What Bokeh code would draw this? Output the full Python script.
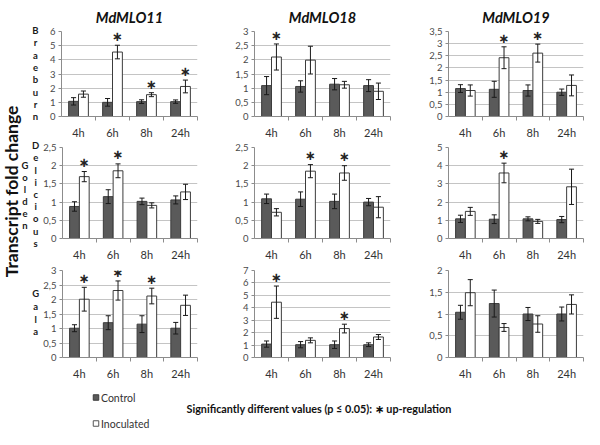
import numpy as np
from bokeh.plotting import figure
from bokeh.models import Range1d, FixedTicker, CustomJSTickFormatter
from bokeh.layouts import row, column
from bokeh.embed import file_html
from bokeh.resources import INLINE
from bokeh.core.properties import value

times = ["4h", "6h", "8h", "24h"]
genes = ["MdMLO11", "MdMLO18", "MdMLO19"]

# ---- Braeburn ----
brae_mlo11_ctrl = [1.07, 1.00, 1.05, 1.05]
brae_mlo11_ctrl_err = [0.26, 0.27, 0.13, 0.12]
brae_mlo11_inoc = [1.58, 4.55, 1.54, 2.12]
brae_mlo11_inoc_err = [0.22, 0.48, 0.14, 0.45]
brae_mlo11_sig = [0, 1, 1, 1]

brae_mlo18_ctrl = [1.09, 1.06, 1.14, 1.09]
brae_mlo18_ctrl_err = [0.32, 0.20, 0.20, 0.21]
brae_mlo18_inoc = [2.10, 1.99, 1.12, 0.89]
brae_mlo18_inoc_err = [0.46, 0.49, 0.12, 0.29]
brae_mlo18_sig = [1, 0, 0, 0]

brae_mlo19_ctrl = [1.15, 1.12, 1.07, 1.00]
brae_mlo19_ctrl_err = [0.16, 0.33, 0.23, 0.13]
brae_mlo19_inoc = [1.07, 2.42, 2.61, 1.28]
brae_mlo19_inoc_err = [0.23, 0.45, 0.37, 0.43]
brae_mlo19_sig = [0, 1, 1, 0]

# ---- Golden Delicious ----
gold_mlo11_ctrl = [0.88, 1.15, 1.02, 1.06]
gold_mlo11_ctrl_err = [0.13, 0.19, 0.09, 0.11]
gold_mlo11_inoc = [1.70, 1.86, 0.91, 1.28]
gold_mlo11_inoc_err = [0.14, 0.19, 0.07, 0.21]
gold_mlo11_sig = [1, 1, 0, 0]

gold_mlo18_ctrl = [1.09, 1.08, 1.02, 1.00]
gold_mlo18_ctrl_err = [0.13, 0.20, 0.20, 0.10]
gold_mlo18_inoc = [0.72, 1.85, 1.80, 0.86]
gold_mlo18_inoc_err = [0.10, 0.18, 0.20, 0.29]
gold_mlo18_sig = [0, 1, 1, 0]

gold_mlo19_ctrl = [1.08, 1.06, 1.08, 1.04]
gold_mlo19_ctrl_err = [0.20, 0.24, 0.11, 0.17]
gold_mlo19_inoc = [1.49, 3.60, 0.94, 2.84]
gold_mlo19_inoc_err = [0.22, 0.54, 0.11, 0.97]
gold_mlo19_sig = [0, 1, 0, 0]

# ---- Gala ----
gala_mlo11_ctrl = [1.01, 1.20, 1.15, 1.01]
gala_mlo11_ctrl_err = [0.12, 0.24, 0.29, 0.20]
gala_mlo11_inoc = [2.01, 2.31, 2.12, 1.80]
gala_mlo11_inoc_err = [0.41, 0.33, 0.27, 0.35]
gala_mlo11_sig = [1, 1, 1, 0]

gala_mlo18_ctrl = [1.08, 1.03, 1.03, 1.03]
gala_mlo18_ctrl_err = [0.25, 0.25, 0.30, 0.15]
gala_mlo18_inoc = [4.45, 1.38, 2.33, 1.65]
gala_mlo18_inoc_err = [1.30, 0.20, 0.35, 0.20]
gala_mlo18_sig = [1, 0, 1, 0]

gala_mlo19_ctrl = [1.04, 1.24, 1.00, 1.00]
gala_mlo19_ctrl_err = [0.16, 0.31, 0.15, 0.16]
gala_mlo19_inoc = [1.49, 0.69, 0.77, 1.22]
gala_mlo19_inoc_err = [0.30, 0.09, 0.19, 0.22]
gala_mlo19_sig = [0, 0, 0, 0]

# axis maxima and steps per row (MLO11, MLO18, MLO19)
y_max = [[6, 3, 3.5], [2.5, 2.5, 5], [3, 7, 2]]
y_step = [[1, 0.5, 0.5], [0.5, 0.5, 1], [0.5, 1, 0.5]]

panels = [
    [(brae_mlo11_ctrl, brae_mlo11_ctrl_err, brae_mlo11_inoc, brae_mlo11_inoc_err, brae_mlo11_sig),
     (brae_mlo18_ctrl, brae_mlo18_ctrl_err, brae_mlo18_inoc, brae_mlo18_inoc_err, brae_mlo18_sig),
     (brae_mlo19_ctrl, brae_mlo19_ctrl_err, brae_mlo19_inoc, brae_mlo19_inoc_err, brae_mlo19_sig)],
    [(gold_mlo11_ctrl, gold_mlo11_ctrl_err, gold_mlo11_inoc, gold_mlo11_inoc_err, gold_mlo11_sig),
     (gold_mlo18_ctrl, gold_mlo18_ctrl_err, gold_mlo18_inoc, gold_mlo18_inoc_err, gold_mlo18_sig),
     (gold_mlo19_ctrl, gold_mlo19_ctrl_err, gold_mlo19_inoc, gold_mlo19_inoc_err, gold_mlo19_sig)],
    [(gala_mlo11_ctrl, gala_mlo11_ctrl_err, gala_mlo11_inoc, gala_mlo11_inoc_err, gala_mlo11_sig),
     (gala_mlo18_ctrl, gala_mlo18_ctrl_err, gala_mlo18_inoc, gala_mlo18_inoc_err, gala_mlo18_sig),
     (gala_mlo19_ctrl, gala_mlo19_ctrl_err, gala_mlo19_inoc, gala_mlo19_inoc_err, gala_mlo19_sig)],
]

FONT = "Lato"
CTRL_FILL = "#5a5a5a"
BAR_LINE = "#3c3c3c"
AXIS_COL = "#8c8c8c"
GRID_COL = "#c4c4c4"

# layout geometry (pixels)
col_borders = [(21, 136, 27), (30, 136, 28), (30, 135, 1)]  # left, frame, right
row_borders = [(30, 88, 23), (6, 92, 24), (7, 90, 22)]      # top, frame, bottom
title_offsets = [-6, -10, 0]


def make_panel(r, c):
    ctrl, ctrl_err, inoc, inoc_err, sig = panels[r][c]
    ymax, ystep = y_max[r][c], y_step[r][c]
    lb, fw, rb = col_borders[c]
    tb, fh, bb = row_borders[r]
    p = figure(width=lb + fw + rb, height=tb + fh + bb,
               x_range=Range1d(-0.5, 3.5), y_range=Range1d(0, ymax),
               output_backend="svg", toolbar_location=None,
               title=genes[c] if r == 0 else None,
               min_border_left=lb, min_border_right=rb,
               min_border_top=tb, min_border_bottom=bb)
    if r == 0:
        p.title.text_font = FONT
        p.title.text_font_size = "14.5px"
        p.title.text_font_style = "bold italic"
        p.title.text_color = "#111111"
        p.title.align = "center"
        p.title.offset = title_offsets[c]
        p.title.standoff = 12
    p.outline_line_color = None
    p.background_fill_color = "white"
    p.border_fill_color = "white"
    p.xgrid.visible = False
    p.ygrid.grid_line_color = GRID_COL
    p.ygrid.grid_line_width = 1

    yt = [float(v) for v in np.arange(0, ymax + 1e-9, ystep)]
    p.yaxis.ticker = FixedTicker(ticks=yt)
    p.yaxis.formatter = CustomJSTickFormatter(code="return String(tick).replace('.', ',');")
    p.yaxis.major_label_text_font = FONT
    p.yaxis.major_label_text_font_size = "9.5px"
    p.yaxis.major_label_text_color = "#4a4a4a"
    p.yaxis.major_tick_out = 3
    p.yaxis.major_tick_in = 0
    p.yaxis.minor_tick_out = 0
    p.yaxis.minor_tick_in = 0
    p.yaxis.major_label_standoff = 3
    p.yaxis.axis_line_color = AXIS_COL
    p.yaxis.major_tick_line_color = AXIS_COL

    p.xaxis.ticker = FixedTicker(ticks=[0, 1, 2, 3], minor_ticks=[0.5, 1.5, 2.5, 3.5])
    p.xaxis.formatter = CustomJSTickFormatter(args=dict(labels=times),
                                              code="return labels[Math.round(tick)];")
    p.xaxis.major_tick_out = 0
    p.xaxis.major_tick_in = 0
    p.xaxis.minor_tick_out = 4
    p.xaxis.minor_tick_in = 0
    p.xaxis.major_label_standoff = 5
    p.xaxis.major_label_text_font = FONT
    p.xaxis.major_label_text_font_size = "11px"
    p.xaxis.major_label_text_color = "#333333"
    p.xaxis.axis_line_color = AXIS_COL
    p.xaxis.minor_tick_line_color = AXIS_COL

    idx = np.arange(len(times))
    bw = 0.29
    xc = idx - bw / 2
    xi = idx + bw / 2
    ctrl = np.array(ctrl); ce = np.array(ctrl_err)
    inoc = np.array(inoc); ie = np.array(inoc_err)

    p.vbar(x=xc, top=ctrl, bottom=0, width=bw, fill_color=CTRL_FILL, line_color=BAR_LINE, line_width=1)
    p.vbar(x=xi, top=inoc, bottom=0, width=bw, fill_color="white", line_color=BAR_LINE, line_width=1)

    cap = 0.075
    for xs, v, e in ((xc, ctrl, ce), (xi, inoc, ie)):
        p.segment(x0=xs, y0=v - e, x1=xs, y1=v + e, line_color="#1a1a1a", line_width=1)
        p.segment(x0=xs - cap, y0=v + e, x1=xs + cap, y1=v + e, line_color="#1a1a1a", line_width=1)
        p.segment(x0=xs - cap, y0=v - e, x1=xs + cap, y1=v - e, line_color="#1a1a1a", line_width=1)

    s = np.array(sig, dtype=bool)
    if s.any():
        p.text(x=xi[s], y=(inoc + ie)[s] + 0.1 * ymax, text=["∗"] * int(s.sum()),
               text_font=value("DejaVu Sans"), text_font_style="bold",
               text_font_size="13px", text_align="center", text_baseline="middle",
               text_color="#222222")
    return p


rows = []
for r in range(3):
    rows.append(row(*[make_panel(r, c) for c in range(3)]))
grid = column(*rows)

# left label column
LH = sum(sum(rb) for rb in row_borders)
left = figure(width=40, height=LH, x_range=Range1d(0, 40), y_range=Range1d(LH, 0),
              output_backend="svg", toolbar_location=None, x_axis_type=None, y_axis_type=None,
              min_border=0, title=None)
left.outline_line_color = None
left.grid.visible = False
left.text(x=[10.5], y=[191], text=["Transcript fold change"], angle=np.pi / 2,
          text_font=value(FONT), text_font_style="bold", text_font_size="17.5px",
          text_align="center", text_baseline="middle", text_color="#111111")

label_specs = [("Braeburn", 35, 30.0, 12.35), ("Golden", 24.5, 164.6, 12.0),
               ("Delicious", 35.2, 145.2, 12.2), ("Gala", 35.2, 293.3, 12.6)]
for word, lx, ly, step in label_specs:
    n = len(word)
    left.text(x=[lx] * n, y=[ly + k * step for k in range(n)], text=list(word),
              text_font=value(FONT), text_font_style="bold", text_font_size="9.5px",
              text_align="center", text_baseline="middle", text_color="#1a1a1a")

# legend strip
LW, LGH = 584, 47
leg = figure(width=LW, height=LGH, x_range=Range1d(0, LW), y_range=Range1d(LGH, 0),
             output_backend="svg", toolbar_location=None, x_axis_type=None, y_axis_type=None,
             min_border=0, title=None)
leg.outline_line_color = None
leg.grid.visible = False
leg.rect(x=[95.5], y=[15], width=5.5, height=5.5, fill_color=CTRL_FILL, line_color=BAR_LINE)
leg.rect(x=[95.5], y=[41], width=5.5, height=5.5, fill_color="white", line_color="#555555")
leg.text(x=[100.5, 100.5], y=[15, 41], text=["Control", "Inoculated"],
         text_font=value(FONT), text_font_size="10.5px", text_align="left",
         text_baseline="middle", text_color="#333333")
leg.text(x=[186], y=[26], text=["Significantly different values (p ≤ 0.05):  ∗ up-regulation"],
         text_font=value(FONT), text_font_style="bold", text_font_size="10.8px",
         text_align="left", text_baseline="middle", text_color="#111111")

layout = column(row(left, grid), leg)

open("out.html", "w").write(file_html(layout, INLINE))
